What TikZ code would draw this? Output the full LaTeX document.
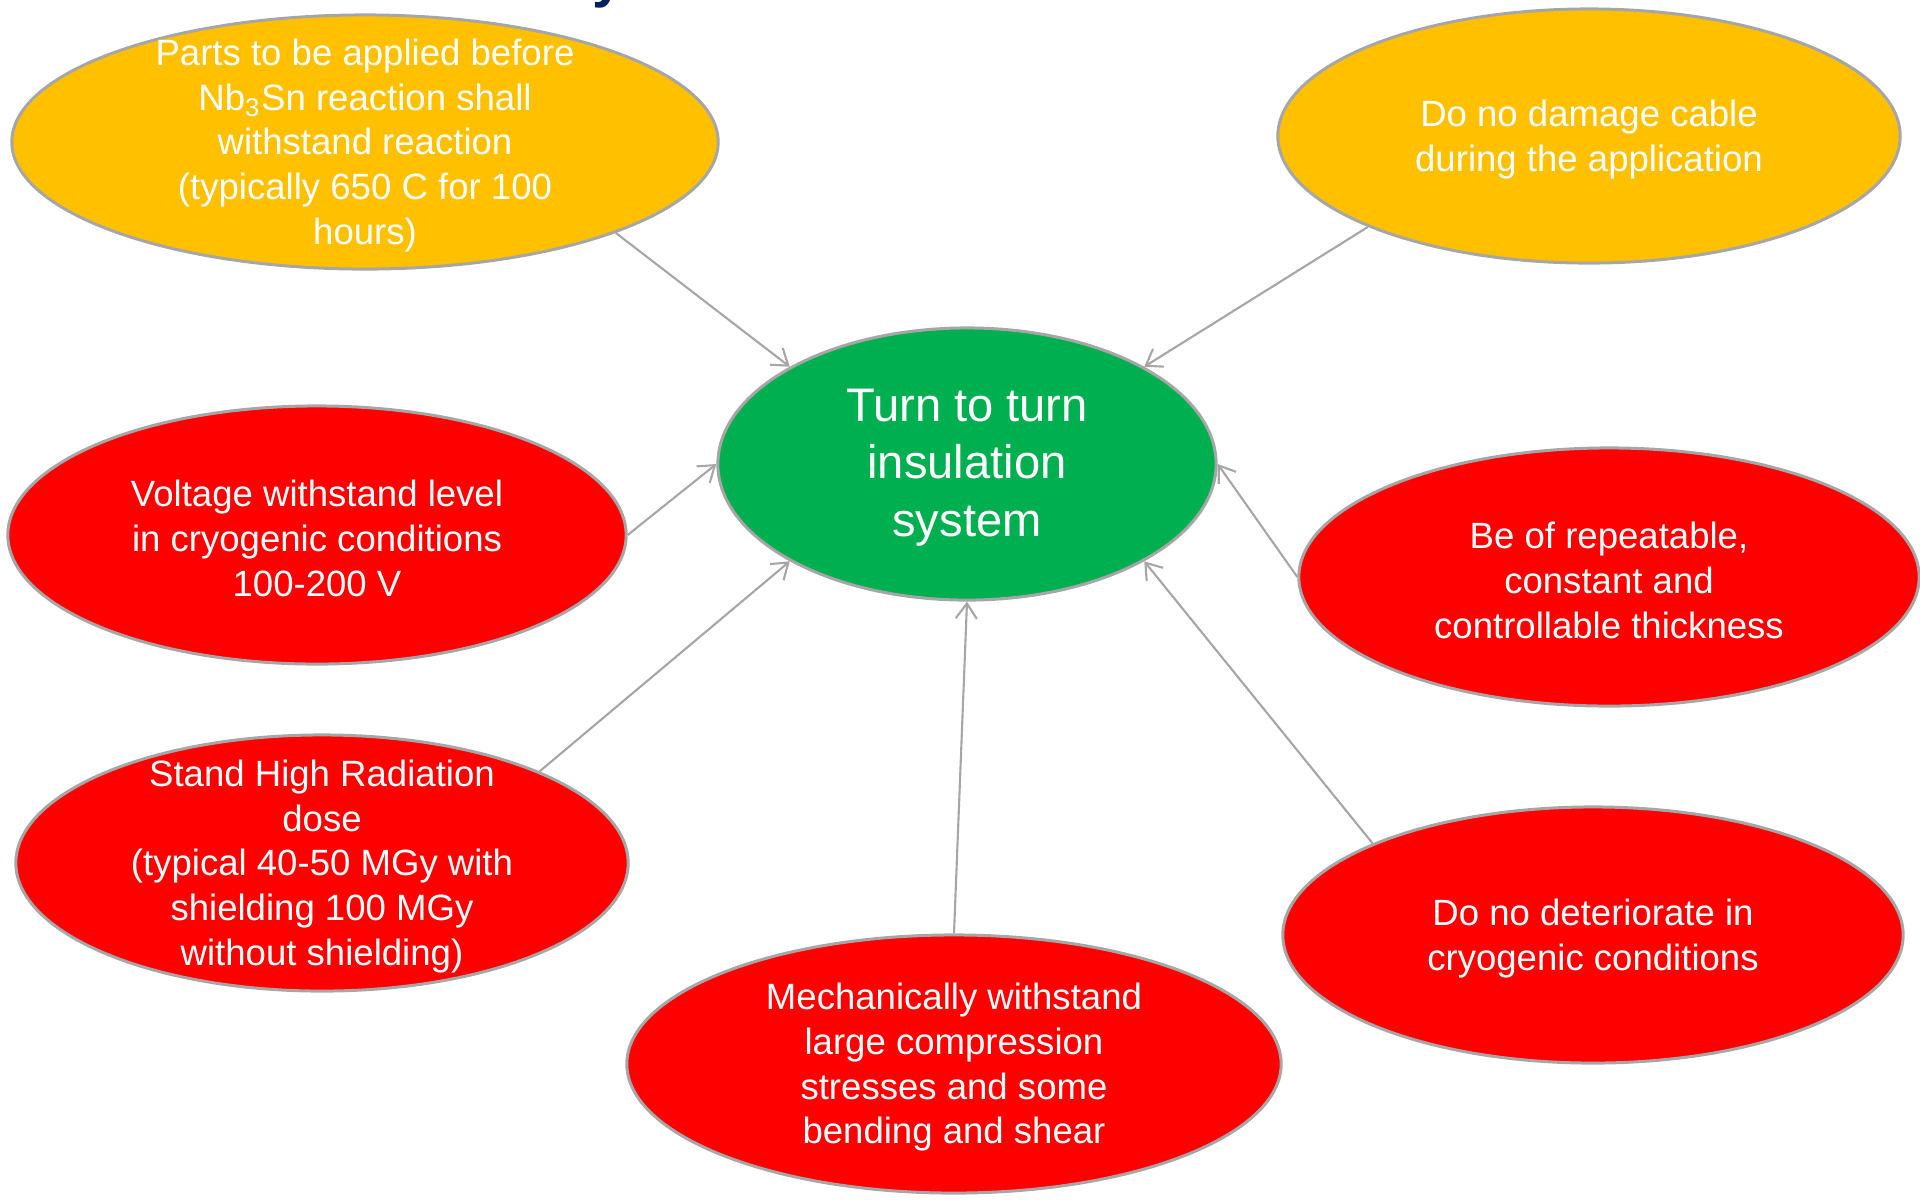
\documentclass[tikz,border=0pt]{standalone}
\usepackage{fontspec}
\setmainfont{Liberation Sans}
\usepackage{xcolor}
\usetikzlibrary{arrows.meta,shapes.geometric}
\definecolor{ppyellow}{HTML}{FFC000}
\definecolor{ppred}{HTML}{FF0000}
\definecolor{ppgreen}{HTML}{00B050}
\definecolor{rimgray}{HTML}{A6A6A6}
\definecolor{titleblue}{HTML}{002060}

\begin{document}
\begin{tikzpicture}[x=0.01cm, y=-0.01cm,
    bubble/.style={ellipse, draw=rimgray, line width=0.85pt, inner sep=0pt},
    txt/.style={text=white, align=center, inner sep=0pt, yshift=-1pt, font=\fontsize{10.4}{12.7}\selectfont},
    link/.style={draw=rimgray, line width=0.6pt, -{Straight Barb[length=4.3pt,width=6pt]}}]
\useasboundingbox (0,0) rectangle (1920,1199);

% Title (cut off by the page edge)
\node[text=titleblue, font=\bfseries\fontsize{16}{19}\selectfont, anchor=base west, inner sep=0pt] (title) at (592,-4) {y};

% Centre
\node[bubble, fill=ppgreen, minimum width=4.98cm, minimum height=2.72cm] (core) at (967,464) {};
\node[txt, font=\fontsize{13.4}{16.4}\selectfont] (core-t) at (core) {Turn to turn\\insulation\\system};

% Orange requirements
\node[bubble, fill=ppyellow, minimum width=7.06cm, minimum height=2.54cm] (react) at (365,142) {};
\node[txt] (react-t) at (react) {Parts to be applied before\\Nb\textsubscript{3}Sn reaction shall\\withstand reaction\\(typically 650 C for 100\\hours)};

\node[bubble, fill=ppyellow, minimum width=6.22cm, minimum height=2.54cm] (cable) at (1589,136) {};
\node[txt] (cable-t) at (cable) {Do no damage cable\\during the application};

% Red requirements
\node[bubble, fill=ppred, minimum width=6.18cm, minimum height=2.58cm] (volt) at (317,535) {};
\node[txt] (volt-t) at (volt) {Voltage withstand level\\in cryogenic conditions\\100-200 V};

\node[bubble, fill=ppred, minimum width=6.2cm, minimum height=2.58cm] (thick) at (1609,577) {};
\node[txt] (thick-t) at (thick) {Be of repeatable,\\constant and\\controllable thickness};

\node[bubble, fill=ppred, minimum width=6.12cm, minimum height=2.56cm] (rad) at (322,863) {};
\node[txt] (rad-t) at (rad) {Stand High Radiation\\dose\\(typical 40-50 MGy with\\shielding 100 MGy\\without shielding)};

\node[bubble, fill=ppred, minimum width=6.2cm, minimum height=2.56cm] (cryo) at (1593,935) {};
\node[txt] (cryo-t) at (cryo) {Do no deteriorate in\\cryogenic conditions};

\node[bubble, fill=ppred, minimum width=6.54cm, minimum height=2.58cm] (mech) at (954,1064) {};
\node[txt] (mech-t) at (mech) {Mechanically withstand\\large compression\\stresses and some\\bending and shear};

% Links to the centre
\draw[link] (react.south east) -- (core.north west);
\draw[link] (cable.south west) -- (core.north east);
\draw[link] (volt.east) -- (core.west);
\draw[link] (rad.north east) -- (core.south west);
\draw[link] (mech.north) -- (core.south);
\draw[link] (cryo.north west) -- (core.south east);
\draw[link] (thick.west) -- (core.east);
\end{tikzpicture}
\end{document}
